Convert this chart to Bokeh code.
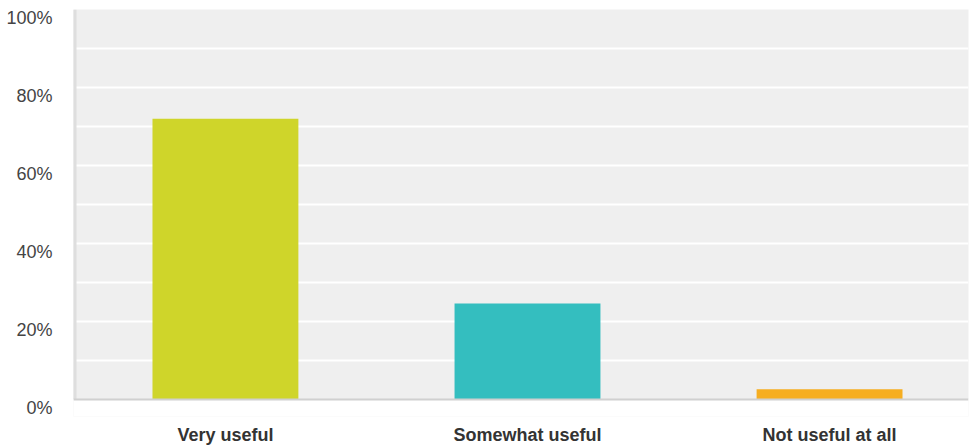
from bokeh.plotting import figure
from bokeh.models import FixedTicker, Range1d, ColumnDataSource, LinearAxis
from bokeh.embed import file_html
from bokeh.resources import INLINE

categories = ["Very useful", "Somewhat useful", "Not useful at all"]
values = [72.0, 24.6, 2.6]
colors = ["#cfd52a", "#34bebf", "#f6ae21"]
y_ticks = [0, 20, 40, 60, 80, 100]
y_labels = ["0%", "20%", "40%", "60%", "80%", "100%"]
grid_ticks = [10, 20, 30, 40, 50, 60, 70, 80, 90, 100]

xs = list(range(len(categories)))
src = ColumnDataSource(dict(x=xs, top=values, color=colors))

# frame: 0% line at y=399, 100% at y=9 (3.9 px per %); frame extends 17px below 0%
px_per = 3.9
y_start = -17 / px_per
x_start, x_end = -0.503, 2.46

p = figure(width=969, height=447, output_backend="svg", toolbar_location=None,
           x_range=Range1d(x_start, x_end), y_range=Range1d(y_start, 100))
p.min_border_left = 73
p.min_border_right = 1
p.min_border_top = 9
p.min_border_bottom = 31
p.outline_line_color = None
p.background_fill_color = "#efefef"
p.border_fill_color = "white"

p.xgrid.visible = False
p.ygrid.ticker = FixedTicker(ticks=grid_ticks)
p.ygrid.grid_line_color = "white"
p.ygrid.grid_line_width = 2

# white strip below the 0% baseline, baseline and left axis line
p.quad(left=[x_start - 1], right=[x_end + 1], bottom=[y_start - 5], top=[0],
       fill_color="#ffffff", fill_alpha=1.0, line_color="#ffffff", line_alpha=1.0, line_width=1)
p.segment(x0=[x_start], y0=[0], x1=[x_start], y1=[100], line_color="#dedede", line_width=6)

p.vbar(x="x", top="top", bottom=0, width=0.483, color="color", source=src, line_color=None)
p.hspan(y=[0], line_color="#d0d0d0", line_width=2)

p.yaxis.visible = False

# percentage labels sit a little below their gridlines: a label axis on a slightly shifted range
shift = 2.25
p.extra_y_ranges = {"lab": Range1d(y_start + shift, 100 + shift)}
lab_axis = LinearAxis(y_range_name="lab", ticker=FixedTicker(ticks=y_ticks),
                      major_label_overrides={t: l for t, l in zip(y_ticks, y_labels)},
                      axis_line_color=None, major_tick_line_color=None, minor_tick_line_color=None,
                      major_label_text_font="Liberation Sans", major_label_text_font_size="18px",
                      major_label_text_color="#444444", major_label_standoff=15)
p.add_layout(lab_axis, "left")

p.xaxis.ticker = FixedTicker(ticks=xs)
p.xaxis.major_label_overrides = {x: c for x, c in zip(xs, categories)}
p.xaxis.major_tick_line_color = None
p.xaxis.minor_tick_line_color = None
p.xaxis.axis_line_color = None
p.xaxis.major_label_text_font = "Liberation Sans"
p.xaxis.major_label_text_font_style = "bold"
p.xaxis.major_label_text_font_size = "18px"
p.xaxis.major_label_text_color = "#333333"
p.xaxis.major_label_standoff = 2

open("out.html", "w").write(file_html(p, INLINE))
